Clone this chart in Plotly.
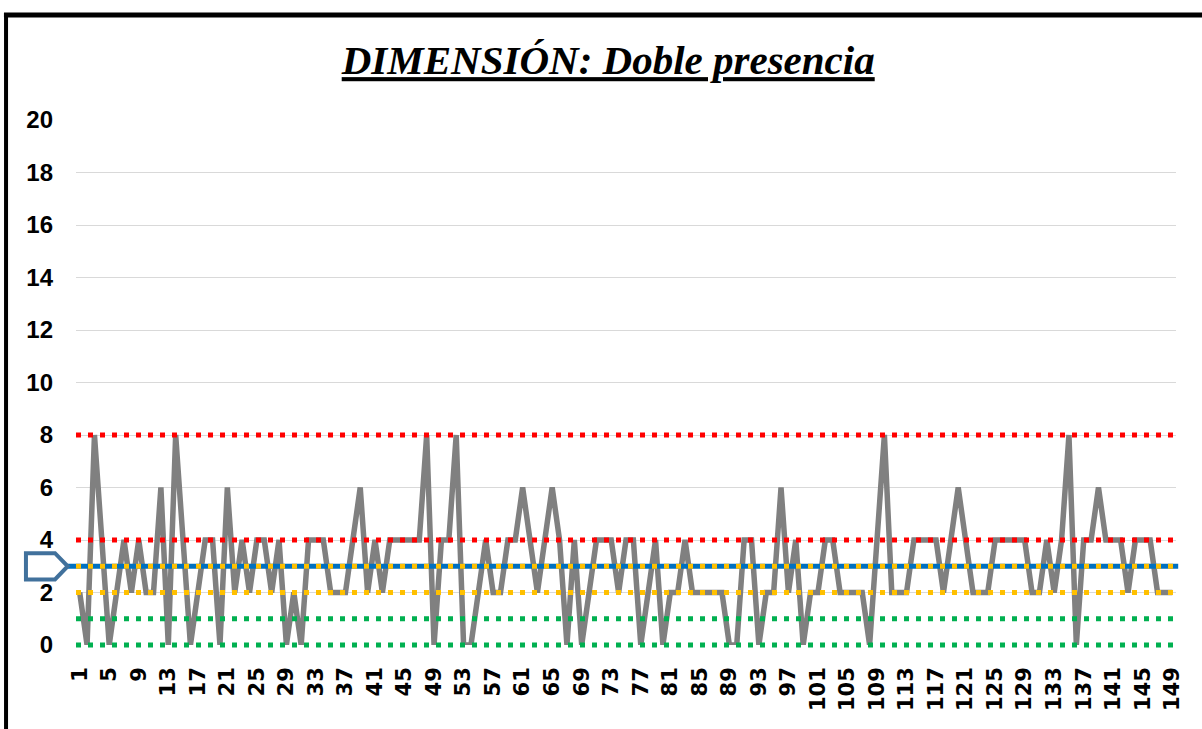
import plotly.graph_objects as go

# ---- data ----
categories = list(range(1, 150))
values = [
    2, 0, 8, 4, 0, 2, 4, 2, 4, 2,
    2, 6, 0, 8, 4, 0, 2, 4, 4, 0,
    6, 2, 4, 2, 4, 4, 2, 4, 0, 2,
    0, 4, 4, 4, 2, 2, 2, 4, 6, 2,
    4, 2, 4, 4, 4, 4, 4, 8, 0, 4,
    4, 8, 0, 0, 2, 4, 2, 2, 4, 4,
    6, 4, 2, 4, 6, 4, 0, 4, 0, 2,
    4, 4, 4, 2, 4, 4, 0, 2, 4, 0,
    2, 2, 4, 2, 2, 2, 2, 2, 0, 0,
    4, 4, 0, 2, 2, 6, 2, 4, 0, 2,
    2, 4, 4, 2, 2, 2, 2, 0, 4, 8,
    2, 2, 2, 4, 4, 4, 4, 2, 4, 6,
    4, 2, 2, 2, 4, 4, 4, 4, 4, 2,
    2, 4, 2, 4, 8, 0, 4, 4, 6, 4,
    4, 4, 2, 4, 4, 4, 2, 2, 2,
]
tick_labels = [str(c) for c in categories[::4]]
y_ticks = list(range(0, 21, 2))
Y_MAX = 20

red_levels = [8, 4]
blue_level = 3
yellow_levels = [3, 2]
green_levels = [1, 0]

title_text = "DIMENSIÓN: Doble presencia"

# ---- figure ----
fig = go.Figure()
fig.add_trace(go.Scatter(
    x=categories, y=values, mode="lines",
    line=dict(color="#808080", width=5.5),
    hoverinfo="skip", showlegend=False, cliponaxis=False,
))


def py(v):
    # value -> paper fraction (axis range is 0..Y_MAX)
    return v / Y_MAX


DOT = "5px,7px"
shapes = []
for lv in red_levels:
    shapes.append(dict(type="line", xref="paper", yref="paper", x0=0, x1=1.002, y0=py(lv), y1=py(lv),
                       line=dict(color="#FF0000", width=5, dash=DOT), layer="above"))
shapes.append(dict(type="line", xref="paper", yref="paper", x0=-0.0075, x1=1.002,
                   y0=py(blue_level), y1=py(blue_level),
                   line=dict(color="#0070C0", width=5), layer="above"))
for lv in yellow_levels:
    shapes.append(dict(type="line", xref="paper", yref="paper", x0=0, x1=1.002, y0=py(lv), y1=py(lv),
                       line=dict(color="#FFC000", width=5, dash=DOT), layer="above"))
for lv in green_levels:
    shapes.append(dict(type="line", xref="paper", yref="paper", x0=0, x1=1.002, y0=py(lv), y1=py(lv),
                       line=dict(color="#00B050", width=5, dash=DOT), layer="above"))

# callout arrow on the left pointing at the blue level
shapes.append(dict(type="path", xref="paper", yref="paper",
                   path=f"M -0.0455,{py(blue_level+0.5)} L -0.0191,{py(blue_level+0.5)} L -0.0075,{py(blue_level)} "
                        f"L -0.0191,{py(blue_level-0.5)} L -0.0455,{py(blue_level-0.5)} Z",
                   line=dict(color="#41719C", width=4), fillcolor="white", layer="above"))

# outer frame (left & top black borders)
shapes.append(dict(type="line", xref="paper", yref="paper", x0=-0.0636, x1=-0.0636, y0=1.204, y1=-0.2,
                   line=dict(color="black", width=4)))
shapes.append(dict(type="line", xref="paper", yref="paper", x0=-0.0655, x1=1.03, y0=1.2, y1=1.2,
                   line=dict(color="black", width=5)))

fig.update_layout(
    width=1202, height=729,
    margin=dict(l=76, r=26, t=120, b=84),
    paper_bgcolor="white", plot_bgcolor="white",
    showlegend=False,
    shapes=shapes,
    title=dict(
        text=f"<u>{title_text}</u>",
        x=0.506, xanchor="center", y=0.918, yanchor="middle",
        font=dict(family="Liberation Serif", size=41, color="black", weight="bold", style="italic"),
    ),
    xaxis=dict(
        range=[0.5, 149.5],
        tickmode="array", tickvals=categories[::4], ticktext=tick_labels,
        tickangle=-90, showgrid=False, zeroline=False, showline=False,
        ticks="", ticklabelstandoff=17,
        tickfont=dict(family="DejaVu Sans", size=21, color="black", weight="bold"),
    ),
    yaxis=dict(
        range=[0, Y_MAX], tickmode="array", tickvals=y_ticks,
        showgrid=True, gridcolor="#D9D9D9", gridwidth=1,
        zeroline=False, showline=False, ticks="", ticklabelstandoff=22,
        tickfont=dict(family="Liberation Sans", size=24, color="black", weight="bold"),
    ),
)

fig.write_html(
    "out.html",
    config={"displayModeBar": False},
    post_script="document.body.style.margin='0';document.body.style.overflow='hidden';",
)
